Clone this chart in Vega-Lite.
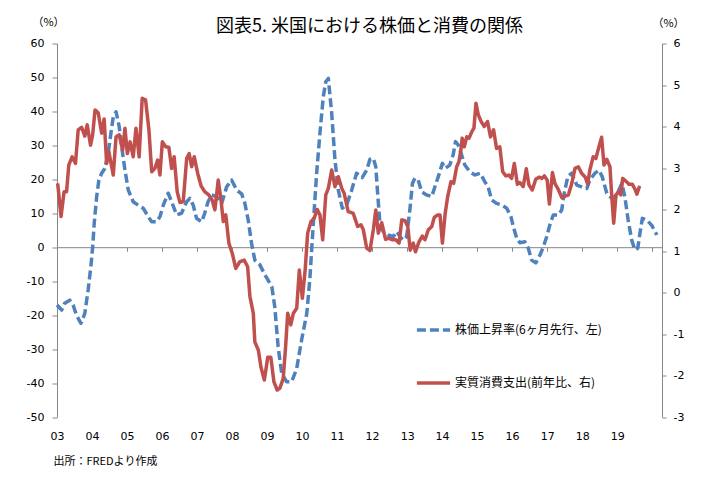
{
  "$schema": "https://vega.github.io/schema/vega-lite/v6.json",
  "width": 605,
  "height": 373.5,
  "autosize": "none",
  "padding": {"left": 57, "top": 43.5, "right": 57, "bottom": 64},
  "background": "white",
  "title": {
    "text": "図表5. 米国における株価と消費の関係",
    "font": "Noto Sans CJK JP",
    "fontSize": 18,
    "fontWeight": "normal",
    "color": "black",
    "anchor": "middle",
    "offset": 10,
    "dx": 10,
    "dy": 29
  },
  "config": {
    "view": {"stroke": null},
    "font": "Noto Sans CJK JP",
    "legend": {
      "orient": "none",
      "legendX": 358,
      "legendY": 268,
      "padding": 0,
      "symbolType": "stroke",
      "symbolSize": 1100,
      "symbolStrokeWidth": 3.5,
      "labelFont": "Noto Sans CJK JP",
      "labelFontSize": 12,
      "labelColor": "black",
      "labelOffset": 3,
      "rowPadding": 27,
      "labelLimit": 300
    }
  },
  "datasets": {
    "stock": [
      {"d": "2003-01-01", "v": -17.0}, {"d": "2003-02-19", "v": -18.5}, {"d": "2003-03-22", "v": -16.5},
      {"d": "2003-05-14", "v": -15.6}, {"d": "2003-06-18", "v": -17.0}, {"d": "2003-07-23", "v": -20.0},
      {"d": "2003-09-08", "v": -22.4}, {"d": "2003-10-18", "v": -19.5}, {"d": "2003-11-22", "v": -12.6},
      {"d": "2003-12-20", "v": -5.7}, {"d": "2004-01-08", "v": 0.0}, {"d": "2004-01-24", "v": 7.0},
      {"d": "2004-02-19", "v": 14.9}, {"d": "2004-03-13", "v": 19.8}, {"d": "2004-04-11", "v": 21.8},
      {"d": "2004-05-14", "v": 23.2}, {"d": "2004-06-18", "v": 27.7}, {"d": "2004-07-16", "v": 33.5},
      {"d": "2004-08-10", "v": 38.4}, {"d": "2004-09-08", "v": 39.9}, {"d": "2004-10-11", "v": 35.5},
      {"d": "2004-11-06", "v": 29.6}, {"d": "2004-12-10", "v": 22.7}, {"d": "2005-01-14", "v": 16.8},
      {"d": "2005-03-06", "v": 13.4}, {"d": "2005-04-26", "v": 12.4}, {"d": "2005-06-18", "v": 11.5},
      {"d": "2005-08-10", "v": 9.0}, {"d": "2005-09-15", "v": 7.5}, {"d": "2005-11-06", "v": 7.5},
      {"d": "2005-12-10", "v": 9.0}, {"d": "2006-01-14", "v": 12.4}, {"d": "2006-03-06", "v": 15.9},
      {"d": "2006-04-11", "v": 13.4}, {"d": "2006-06-02", "v": 9.5}, {"d": "2006-07-23", "v": 10.0},
      {"d": "2006-09-15", "v": 13.4}, {"d": "2006-10-18", "v": 14.4}, {"d": "2006-11-22", "v": 12.4},
      {"d": "2006-12-27", "v": 8.5}, {"d": "2007-02-19", "v": 7.5}, {"d": "2007-03-22", "v": 10.0},
      {"d": "2007-04-26", "v": 13.4}, {"d": "2007-06-02", "v": 15.4}, {"d": "2007-07-23", "v": 14.9},
      {"d": "2007-09-15", "v": 12.9}, {"d": "2007-11-06", "v": 17.8}, {"d": "2007-12-27", "v": 19.8},
      {"d": "2008-02-19", "v": 16.8}, {"d": "2008-04-11", "v": 15.7}, {"d": "2008-05-14", "v": 12.9},
      {"d": "2008-06-18", "v": 8.0}, {"d": "2008-07-23", "v": 1.1}, {"d": "2008-08-26", "v": -3.8},
      {"d": "2008-10-18", "v": -5.2}, {"d": "2008-12-10", "v": -8.2}, {"d": "2009-02-19", "v": -11.6},
      {"d": "2009-03-22", "v": -17.5}, {"d": "2009-04-26", "v": -29.3}, {"d": "2009-06-02", "v": -37.1},
      {"d": "2009-07-23", "v": -39.6}, {"d": "2009-09-15", "v": -39.6}, {"d": "2009-11-06", "v": -35.7},
      {"d": "2009-12-27", "v": -27.3}, {"d": "2010-02-19", "v": -19.5}, {"d": "2010-03-22", "v": -9.7},
      {"d": "2010-04-26", "v": 6.0}, {"d": "2010-06-02", "v": 21.8}, {"d": "2010-07-06", "v": 33.5},
      {"d": "2010-08-10", "v": 44.3}, {"d": "2010-09-05", "v": 48.7}, {"d": "2010-10-02", "v": 49.7},
      {"d": "2010-11-06", "v": 39.4}, {"d": "2010-12-10", "v": 25.7}, {"d": "2011-01-14", "v": 16.8},
      {"d": "2011-02-25", "v": 11.5}, {"d": "2011-04-11", "v": 12.4}, {"d": "2011-06-02", "v": 16.8},
      {"d": "2011-07-23", "v": 21.8}, {"d": "2011-09-20", "v": 20.5}, {"d": "2011-11-06", "v": 22.7},
      {"d": "2011-12-10", "v": 25.9}, {"d": "2012-01-14", "v": 26.2}, {"d": "2012-02-09", "v": 23.7},
      {"d": "2012-02-28", "v": 15.9}, {"d": "2012-03-22", "v": 7.5}, {"d": "2012-04-26", "v": 4.6},
      {"d": "2012-06-18", "v": 3.6}, {"d": "2012-08-10", "v": 3.1}, {"d": "2012-09-15", "v": 4.6},
      {"d": "2012-10-18", "v": 3.1}, {"d": "2012-11-22", "v": 2.1}, {"d": "2012-12-27", "v": 3.1},
      {"d": "2013-02-02", "v": 11.9}, {"d": "2013-02-25", "v": 18.8}, {"d": "2013-03-22", "v": 20.3},
      {"d": "2013-04-26", "v": 19.8}, {"d": "2013-06-02", "v": 16.3}, {"d": "2013-07-23", "v": 15.4},
      {"d": "2013-09-15", "v": 14.9}, {"d": "2013-10-18", "v": 17.8}, {"d": "2013-11-22", "v": 20.8},
      {"d": "2014-01-04", "v": 24.7}, {"d": "2014-02-02", "v": 23.2}, {"d": "2014-03-22", "v": 24.2},
      {"d": "2014-04-26", "v": 27.2}, {"d": "2014-05-21", "v": 31.1}, {"d": "2014-06-18", "v": 30.1},
      {"d": "2014-07-23", "v": 27.2}, {"d": "2014-08-26", "v": 24.2}, {"d": "2014-10-18", "v": 22.2},
      {"d": "2014-12-10", "v": 21.3}, {"d": "2015-02-02", "v": 21.8}, {"d": "2015-03-22", "v": 19.3},
      {"d": "2015-04-26", "v": 17.8}, {"d": "2015-06-02", "v": 13.9}, {"d": "2015-07-23", "v": 12.9},
      {"d": "2015-09-15", "v": 12.4}, {"d": "2015-11-06", "v": 11.5}, {"d": "2015-12-20", "v": 9.0},
      {"d": "2016-01-14", "v": 6.0}, {"d": "2016-02-19", "v": 2.6}, {"d": "2016-03-22", "v": 1.3},
      {"d": "2016-05-14", "v": 1.6}, {"d": "2016-06-18", "v": -0.3}, {"d": "2016-07-23", "v": -3.8},
      {"d": "2016-09-04", "v": -4.6}, {"d": "2016-10-18", "v": -2.3}, {"d": "2016-11-22", "v": 0.1},
      {"d": "2016-12-27", "v": 3.1}, {"d": "2017-02-02", "v": 7.0}, {"d": "2017-03-06", "v": 9.5},
      {"d": "2017-04-26", "v": 9.5}, {"d": "2017-06-02", "v": 11.0}, {"d": "2017-06-28", "v": 15.9},
      {"d": "2017-08-04", "v": 20.8}, {"d": "2017-09-14", "v": 21.8}, {"d": "2017-11-06", "v": 18.3},
      {"d": "2017-12-27", "v": 17.8}, {"d": "2018-02-19", "v": 17.3}, {"d": "2018-03-22", "v": 19.8},
      {"d": "2018-05-14", "v": 21.8}, {"d": "2018-06-25", "v": 22.7}, {"d": "2018-07-29", "v": 20.8},
      {"d": "2018-09-15", "v": 15.9}, {"d": "2018-11-06", "v": 14.4}, {"d": "2018-12-27", "v": 15.4},
      {"d": "2019-02-19", "v": 18.8}, {"d": "2019-03-22", "v": 14.9}, {"d": "2019-04-26", "v": 8.0},
      {"d": "2019-06-02", "v": 2.1}, {"d": "2019-07-06", "v": -0.8}, {"d": "2019-08-04", "v": -0.3},
      {"d": "2019-08-27", "v": 4.1}, {"d": "2019-09-21", "v": 8.5}, {"d": "2019-11-06", "v": 8.0},
      {"d": "2019-12-27", "v": 6.5}, {"d": "2020-02-19", "v": 3.6}
    ],
    "consumption": [
      {"d": "2003-01-08", "v": 2.63}, {"d": "2003-02-12", "v": 1.83}, {"d": "2003-03-16", "v": 2.43},
      {"d": "2003-04-11", "v": 2.43}, {"d": "2003-05-04", "v": 3.07}, {"d": "2003-06-08", "v": 3.27},
      {"d": "2003-07-13", "v": 3.11}, {"d": "2003-08-10", "v": 3.92}, {"d": "2003-09-15", "v": 3.98},
      {"d": "2003-10-18", "v": 3.77}, {"d": "2003-11-12", "v": 4.04}, {"d": "2003-12-17", "v": 3.55},
      {"d": "2004-01-08", "v": 3.80}, {"d": "2004-02-02", "v": 4.40}, {"d": "2004-03-06", "v": 4.33},
      {"d": "2004-04-11", "v": 3.84}, {"d": "2004-05-07", "v": 4.18}, {"d": "2004-06-02", "v": 3.11},
      {"d": "2004-06-25", "v": 3.39}, {"d": "2004-08-10", "v": 2.83}, {"d": "2004-09-08", "v": 3.75},
      {"d": "2004-10-11", "v": 3.80}, {"d": "2004-11-16", "v": 3.43}, {"d": "2004-12-10", "v": 3.96},
      {"d": "2005-01-04", "v": 3.35}, {"d": "2005-02-02", "v": 3.63}, {"d": "2005-03-06", "v": 3.27},
      {"d": "2005-04-04", "v": 3.96}, {"d": "2005-05-07", "v": 3.27}, {"d": "2005-06-08", "v": 4.68},
      {"d": "2005-07-13", "v": 4.64}, {"d": "2005-08-17", "v": 3.92}, {"d": "2005-09-15", "v": 2.91},
      {"d": "2005-10-18", "v": 2.99}, {"d": "2005-11-16", "v": 3.19}, {"d": "2005-12-10", "v": 2.83},
      {"d": "2006-01-04", "v": 3.63}, {"d": "2006-02-09", "v": 3.51}, {"d": "2006-03-13", "v": 3.50},
      {"d": "2006-04-11", "v": 2.99}, {"d": "2006-05-07", "v": 3.27}, {"d": "2006-06-08", "v": 2.43},
      {"d": "2006-07-06", "v": 2.17}, {"d": "2006-08-10", "v": 2.19}, {"d": "2006-09-15", "v": 3.23},
      {"d": "2006-10-11", "v": 3.35}, {"d": "2006-11-06", "v": 3.03}, {"d": "2006-12-03", "v": 3.27},
      {"d": "2007-01-08", "v": 2.87}, {"d": "2007-02-12", "v": 2.57}, {"d": "2007-03-22", "v": 2.43},
      {"d": "2007-05-04", "v": 2.35}, {"d": "2007-06-08", "v": 2.23}, {"d": "2007-07-06", "v": 1.99},
      {"d": "2007-08-10", "v": 2.71}, {"d": "2007-09-08", "v": 2.23}, {"d": "2007-10-02", "v": 1.71},
      {"d": "2007-10-28", "v": 1.87}, {"d": "2007-11-29", "v": 1.19}, {"d": "2008-01-04", "v": 0.94},
      {"d": "2008-02-09", "v": 0.58}, {"d": "2008-03-22", "v": 0.74}, {"d": "2008-05-07", "v": 0.78},
      {"d": "2008-06-12", "v": 0.62}, {"d": "2008-07-06", "v": -0.10}, {"d": "2008-08-10", "v": -0.50},
      {"d": "2008-08-26", "v": -1.19}, {"d": "2008-10-02", "v": -1.39}, {"d": "2008-10-28", "v": -1.79},
      {"d": "2008-12-03", "v": -2.11}, {"d": "2009-01-08", "v": -1.56}, {"d": "2009-02-09", "v": -1.56},
      {"d": "2009-03-13", "v": -2.15}, {"d": "2009-04-16", "v": -2.35}, {"d": "2009-05-14", "v": -2.31},
      {"d": "2009-06-18", "v": -2.07}, {"d": "2009-07-13", "v": -1.31}, {"d": "2009-08-04", "v": -0.50},
      {"d": "2009-09-05", "v": -0.78}, {"d": "2009-10-02", "v": -0.50}, {"d": "2009-11-06", "v": -0.38},
      {"d": "2009-12-03", "v": 0.54}, {"d": "2010-01-04", "v": -0.14}, {"d": "2010-02-02", "v": 0.54},
      {"d": "2010-02-28", "v": 1.43}, {"d": "2010-04-04", "v": 1.71}, {"d": "2010-05-07", "v": 1.79},
      {"d": "2010-06-08", "v": 2.00}, {"d": "2010-07-06", "v": 1.87}, {"d": "2010-08-04", "v": 1.27},
      {"d": "2010-09-05", "v": 2.35}, {"d": "2010-10-02", "v": 2.51}, {"d": "2010-11-06", "v": 2.95},
      {"d": "2010-12-10", "v": 2.55}, {"d": "2011-01-14", "v": 2.79}, {"d": "2011-02-19", "v": 2.51},
      {"d": "2011-03-16", "v": 2.39}, {"d": "2011-04-27", "v": 1.95}, {"d": "2011-06-18", "v": 1.91},
      {"d": "2011-08-04", "v": 1.59}, {"d": "2011-09-08", "v": 1.63}, {"d": "2011-10-02", "v": 1.51},
      {"d": "2011-11-06", "v": 1.07}, {"d": "2011-12-10", "v": 1.01}, {"d": "2012-01-14", "v": 1.51},
      {"d": "2012-02-09", "v": 1.99}, {"d": "2012-03-06", "v": 1.43}, {"d": "2012-04-11", "v": 1.68},
      {"d": "2012-05-21", "v": 1.28}, {"d": "2012-06-25", "v": 1.31}, {"d": "2012-07-29", "v": 1.27},
      {"d": "2012-09-05", "v": 1.27}, {"d": "2012-10-09", "v": 1.19}, {"d": "2012-11-06", "v": 1.75},
      {"d": "2012-12-10", "v": 1.73}, {"d": "2013-01-08", "v": 1.59}, {"d": "2013-02-02", "v": 1.02},
      {"d": "2013-03-06", "v": 1.19}, {"d": "2013-03-29", "v": 0.98}, {"d": "2013-05-04", "v": 1.22},
      {"d": "2013-06-08", "v": 1.36}, {"d": "2013-07-06", "v": 1.27}, {"d": "2013-08-10", "v": 1.51},
      {"d": "2013-09-15", "v": 1.59}, {"d": "2013-10-11", "v": 1.81}, {"d": "2013-11-16", "v": 1.87},
      {"d": "2013-12-10", "v": 1.87}, {"d": "2014-01-04", "v": 1.19}, {"d": "2014-02-02", "v": 1.91},
      {"d": "2014-02-28", "v": 2.31}, {"d": "2014-04-03", "v": 2.67}, {"d": "2014-05-01", "v": 2.63},
      {"d": "2014-06-02", "v": 3.03}, {"d": "2014-06-25", "v": 3.15}, {"d": "2014-07-16", "v": 3.43},
      {"d": "2014-07-29", "v": 3.72}, {"d": "2014-08-20", "v": 3.51}, {"d": "2014-09-15", "v": 3.75},
      {"d": "2014-10-09", "v": 3.72}, {"d": "2014-11-06", "v": 3.87}, {"d": "2014-11-29", "v": 3.96},
      {"d": "2014-12-20", "v": 4.56}, {"d": "2015-01-14", "v": 4.28}, {"d": "2015-02-12", "v": 4.12},
      {"d": "2015-03-16", "v": 4.00}, {"d": "2015-04-20", "v": 4.12}, {"d": "2015-05-21", "v": 3.75},
      {"d": "2015-06-22", "v": 3.92}, {"d": "2015-07-23", "v": 3.47}, {"d": "2015-08-26", "v": 3.51},
      {"d": "2015-09-25", "v": 2.91}, {"d": "2015-10-28", "v": 2.81}, {"d": "2015-11-29", "v": 2.83},
      {"d": "2015-12-27", "v": 2.75}, {"d": "2016-01-24", "v": 3.11}, {"d": "2016-02-25", "v": 2.61},
      {"d": "2016-03-22", "v": 2.65}, {"d": "2016-04-26", "v": 2.55}, {"d": "2016-05-28", "v": 2.98},
      {"d": "2016-06-25", "v": 2.59}, {"d": "2016-07-29", "v": 2.47}, {"d": "2016-09-04", "v": 2.73},
      {"d": "2016-10-09", "v": 2.78}, {"d": "2016-11-06", "v": 2.75}, {"d": "2016-12-03", "v": 2.81},
      {"d": "2017-01-01", "v": 2.71}, {"d": "2017-01-24", "v": 2.13}, {"d": "2017-02-25", "v": 2.89},
      {"d": "2017-03-22", "v": 2.63}, {"d": "2017-04-26", "v": 2.49}, {"d": "2017-06-02", "v": 2.29},
      {"d": "2017-07-06", "v": 2.32}, {"d": "2017-08-10", "v": 2.35}, {"d": "2017-09-15", "v": 2.63},
      {"d": "2017-10-18", "v": 2.99}, {"d": "2017-11-22", "v": 3.03}, {"d": "2017-12-27", "v": 2.87},
      {"d": "2018-02-02", "v": 2.78}, {"d": "2018-02-28", "v": 2.61}, {"d": "2018-03-22", "v": 2.95},
      {"d": "2018-04-26", "v": 3.27}, {"d": "2018-05-24", "v": 3.23}, {"d": "2018-06-25", "v": 3.51},
      {"d": "2018-07-23", "v": 3.74}, {"d": "2018-08-17", "v": 3.07}, {"d": "2018-09-15", "v": 3.21},
      {"d": "2018-10-18", "v": 3.03}, {"d": "2018-11-06", "v": 2.31}, {"d": "2018-11-26", "v": 1.67},
      {"d": "2018-12-20", "v": 2.35}, {"d": "2019-01-14", "v": 2.43}, {"d": "2019-02-09", "v": 2.35},
      {"d": "2019-02-28", "v": 2.75}, {"d": "2019-03-30", "v": 2.69}, {"d": "2019-05-04", "v": 2.61},
      {"d": "2019-06-08", "v": 2.61}, {"d": "2019-07-06", "v": 2.49}, {"d": "2019-07-26", "v": 2.37},
      {"d": "2019-08-24", "v": 2.57}
    ]
  },
  "layer": [
    {
      "data": {"name": "stock"},
      "mark": {"type": "line", "strokeWidth": 3.5, "strokeCap": "butt", "strokeJoin": "round"},
      "encoding": {
        "x": {
          "field": "d",
          "type": "temporal",
          "scale": {"domain": ["2003-01-01", "2020-04-13"]},
          "axis": {
            "orient": "bottom",
            "format": "%y",
            "values": [
              {"year": 2003}, {"year": 2004}, {"year": 2005}, {"year": 2006}, {"year": 2007}, {"year": 2008},
              {"year": 2009}, {"year": 2010}, {"year": 2011}, {"year": 2012}, {"year": 2013}, {"year": 2014},
              {"year": 2015}, {"year": 2016}, {"year": 2017}, {"year": 2018}, {"year": 2019}
            ],
            "domain": false,
            "ticks": false,
            "grid": false,
            "labelFont": "DejaVu Sans",
            "labelFontSize": 11,
            "labelColor": "black",
            "labelPadding": 13,
            "labelFlush": false,
            "labelAlign": "center",
            "title": "出所：FREDより作成",
            "titleFont": "Noto Sans CJK JP",
            "titleFontSize": 11,
            "titleFontWeight": "normal",
            "titleColor": "black",
            "titleAnchor": "start",
            "titleAlign": "left",
            "titleBaseline": "middle",
            "titleX": -4,
            "titleY": 44
          }
        },
        "y": {
          "field": "v",
          "type": "quantitative",
          "scale": {"domain": [-50, 60], "nice": false, "zero": false},
          "axis": {
            "orient": "left",
            "values": [-50, -40, -30, -20, -10, 0, 10, 20, 30, 40, 50, 60],
            "labelExpr": "'' + datum.value",
            "grid": false,
            "domainColor": "#868686",
            "tickColor": "#868686",
            "tickSize": 5,
            "labelFont": "DejaVu Sans",
            "labelFontSize": 11,
            "labelColor": "black",
            "labelPadding": 8,
            "title": "（%）",
            "titleFont": "Noto Sans CJK JP",
            "titleFontSize": 11,
            "titleFontWeight": "normal",
            "titleColor": "black",
            "titleAngle": 0,
            "titleAlign": "center",
            "titleBaseline": "middle",
            "titleX": -9,
            "titleY": -21
          }
        },
        "color": {
          "datum": "株価上昇率(6ヶ月先行、左)",
          "scale": {
            "domain": ["株価上昇率(6ヶ月先行、左)", "実質消費支出(前年比、右)"],
            "range": ["#4F81BD", "#C0504D"]
          },
          "legend": {"title": null}
        },
        "strokeDash": {
          "datum": "株価上昇率(6ヶ月先行、左)",
          "scale": {
            "domain": ["株価上昇率(6ヶ月先行、左)", "実質消費支出(前年比、右)"],
            "range": [[9, 4], [1, 0]]
          },
          "legend": {"title": null}
        }
      }
    },
    {
      "data": {"name": "consumption"},
      "mark": {"type": "line", "strokeWidth": 3.5, "strokeCap": "butt", "strokeJoin": "round"},
      "encoding": {
        "x": {
          "field": "d",
          "type": "temporal",
          "axis": {
            "orient": "bottom",
            "offset": -169.8,
            "values": [
              {"year": 2003}, {"year": 2004}, {"year": 2005}, {"year": 2006}, {"year": 2007}, {"year": 2008},
              {"year": 2009}, {"year": 2010}, {"year": 2011}, {"year": 2012}, {"year": 2013}, {"year": 2014},
              {"year": 2015}, {"year": 2016}, {"year": 2017}, {"year": 2018}, {"year": 2019}, {"year": 2020}
            ],
            "labels": false,
            "grid": false,
            "domainColor": "#868686",
            "tickColor": "#868686",
            "tickSize": 4,
            "title": null
          }
        },
        "y": {
          "field": "v",
          "type": "quantitative",
          "scale": {"domain": [-3, 6], "nice": false, "zero": false},
          "axis": {
            "orient": "right",
            "values": [-3, -2, -1, 0, 1, 2, 3, 4, 5, 6],
            "labelExpr": "'' + datum.value",
            "grid": false,
            "domainColor": "#868686",
            "tickColor": "#868686",
            "tickSize": 4,
            "labelFont": "DejaVu Sans",
            "labelFontSize": 11,
            "labelColor": "black",
            "labelPadding": 7,
            "title": "（%）",
            "titleFont": "Noto Sans CJK JP",
            "titleFontSize": 11,
            "titleFontWeight": "normal",
            "titleColor": "black",
            "titleAngle": 0,
            "titleAlign": "center",
            "titleBaseline": "middle",
            "titleX": 6,
            "titleY": -20
          }
        },
        "color": {
          "datum": "実質消費支出(前年比、右)",
          "scale": {
            "domain": ["株価上昇率(6ヶ月先行、左)", "実質消費支出(前年比、右)"],
            "range": ["#4F81BD", "#C0504D"]
          },
          "legend": {"title": null}
        },
        "strokeDash": {
          "datum": "実質消費支出(前年比、右)",
          "scale": {
            "domain": ["株価上昇率(6ヶ月先行、左)", "実質消費支出(前年比、右)"],
            "range": [[9, 4], [1, 0]]
          },
          "legend": {"title": null}
        }
      }
    }
  ],
  "resolve": {"scale": {"y": "independent"}, "axis": {"x": "independent"}}
}
